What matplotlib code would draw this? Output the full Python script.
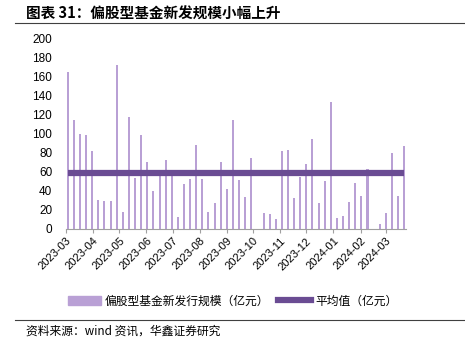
import numpy as np
import pandas as pd
import matplotlib
matplotlib.use("Agg")
import matplotlib.pyplot as plt
import matplotlib.dates as mdates
from matplotlib.lines import Line2D

plt.rcParams['font.family'] = ['Liberation Sans', 'Noto Sans CJK SC', 'DejaVu Sans']

# weekly issuance of equity-leaning funds (100m yuan), week ending Friday
weeks = pd.date_range('2023-03-03', '2024-03-22', freq='7D')
issuance = [165, 115, 100, 99, 82.5, 30.5, 29.5, 29.5, 172.6, 18,
            117.5, 54, 99, 70.5, 39.7, 57, 72.6, 62, 13, 47.4,
            52, 88.4, 52.6, 18, 27.5, 70.2, 41.8, 114.6, 51.6, 34,
            75, 0, 16.5, 15.8, 10.9, 82, 82.8, 33, 55, 68,
            95, 27.7, 50.5, 134, 11.2, 13.7, 28.4, 48.8, 34.7, 63.2,
            0, 5.6, 16.5, 79.6, 34.7, 87.7]
average = 58.6
yticks = list(range(0, 201, 20))

bar_color = '#B9A0D5'
line_color = '#6A4C93'

fig = plt.figure(figsize=(4.65, 3.5), dpi=100)
ax = fig.add_axes([0.142, 0.346, 0.731, 0.543])

ax.bar(weeks, issuance, width=2.3, color=bar_color, align='center')
ax.plot([weeks[0], weeks[-1]], [average, average], color=line_color, lw=4.5,
        solid_capstyle='butt')

ax.set_ylim(0, 200)
ax.set_yticks(yticks)
ax.set_xlim(pd.Timestamp('2023-03-01'), pd.Timestamp('2024-03-24'))
ax.xaxis.set_major_locator(mdates.MonthLocator())
ax.xaxis.set_major_formatter(mdates.DateFormatter('%Y-%m'))
for lbl in ax.get_xticklabels():
    lbl.set_rotation(45)
    lbl.set_ha('right')
    lbl.set_rotation_mode('anchor')
ax.tick_params(axis='x', labelsize=8, length=3, color='#A0A0A0', pad=2)
ax.tick_params(axis='y', labelsize=8.5, length=0, pad=10)

for s in ['top', 'right', 'left']:
    ax.spines[s].set_visible(False)
ax.spines['bottom'].set_color('#A0A0A0')

handles = [plt.Rectangle((0, 0), 1, 1, color=bar_color),
           Line2D([0], [0], color=line_color, lw=4.5)]
fig.legend(handles, ['偏股型基金新发行规模（亿元）', '平均值（亿元）'],
           loc='center', bbox_to_anchor=(0.5, 0.14), ncol=2, frameon=False,
           handlelength=2.8, handletextpad=0.3, columnspacing=0.8,
           prop={'family': ['Noto Sans CJK SC'], 'size': 8.5})

fig.text(0.055, 0.96, '图表 31：偏股型基金新发规模小幅上升', fontsize=10.5,
         fontweight='bold', va='center', family=['Noto Sans CJK SC'])
fig.add_artist(Line2D([0.032, 1.0], [0.934, 0.934], color='#404040', lw=0.8))
fig.add_artist(Line2D([0.032, 1.0], [0.086, 0.086], color='#404040', lw=0.8))
fig.text(0.055, 0.054, '资料来源：wind 资讯，华鑫证券研究', fontsize=8.5,
         va='center', family=['Noto Sans CJK SC', 'DejaVu Sans'])

fig.savefig('out.png', dpi=100)
